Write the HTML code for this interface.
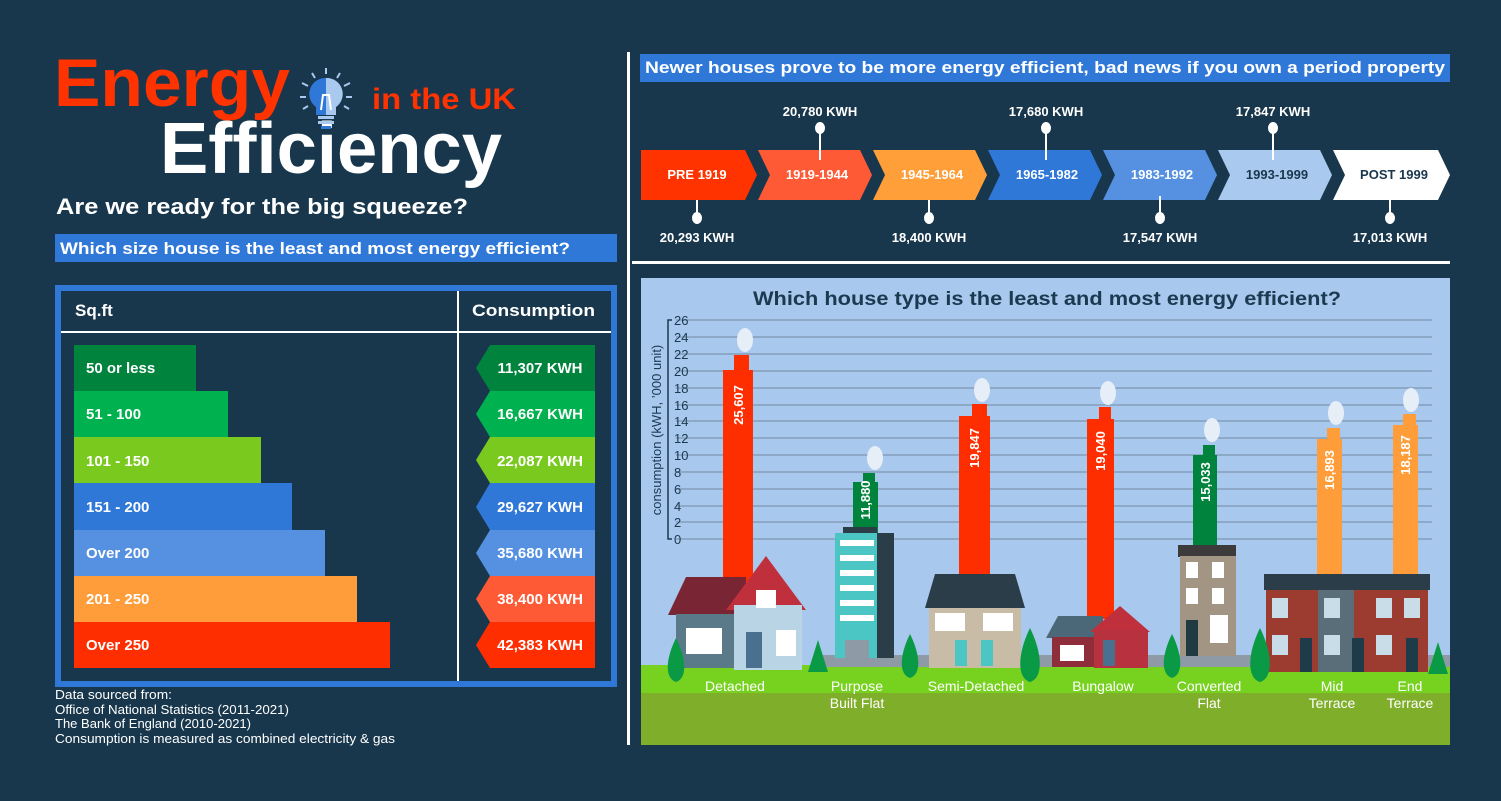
<!DOCTYPE html>
<html><head><meta charset="utf-8"><style>
html,body{margin:0;padding:0;background:#18374c;}
svg{display:block;font-family:"Liberation Sans",sans-serif;font-weight:bold;}
</style></head><body>
<svg width="1501" height="801" viewBox="0 0 1501 801" xmlns="http://www.w3.org/2000/svg">
<rect width="1501" height="801" fill="#18374c"/>
<!-- Title -->
<text x="54" y="106" font-size="68" fill="#ff3300" textLength="236" lengthAdjust="spacingAndGlyphs">Energy</text>
<text x="372" y="109" font-size="30" fill="#ff3300" textLength="144" lengthAdjust="spacingAndGlyphs">in the UK</text>
<text x="160" y="173" font-size="72" fill="#ffffff" textLength="342" lengthAdjust="spacingAndGlyphs">Efficiency</text>
<g stroke="#a9c9ee" stroke-width="2">
<line x1="326" y1="68" x2="326" y2="74"/><line x1="312" y1="73" x2="315" y2="78"/><line x1="340" y1="73" x2="337" y2="78"/>
<line x1="302" y1="83" x2="308" y2="86"/><line x1="350" y1="83" x2="344" y2="86"/><line x1="300" y1="97" x2="306" y2="97"/><line x1="352" y1="97" x2="346" y2="97"/>
<line x1="303" y1="109" x2="308" y2="106"/><line x1="349" y1="109" x2="344" y2="106"/></g>
<path d="M326 78 a16 16 0 0 1 10 29 v8 h-20 v-8 a16 16 0 0 1 10 -29z" fill="#2f78d8"/>
<path d="M326 78 a16 16 0 0 1 10 29 v8 h-10z" fill="#a9c9ee"/>
<path d="M321 110 l2 -15 h6 l2 15" fill="none" stroke="#fff" stroke-width="2"/>
<rect x="318" y="116" width="16" height="3" fill="#a9c9ee"/><rect x="318" y="121" width="16" height="3" fill="#a9c9ee"/><rect x="321" y="126" width="10" height="3" fill="#2f78d8"/>
<text x="56" y="214" font-size="22" fill="#fff" textLength="412" lengthAdjust="spacingAndGlyphs">Are we ready for the big squeeze?</text>
<rect x="55" y="234" width="562" height="28" fill="#2f78d8"/>
<text x="60" y="254" font-size="17" fill="#fff" textLength="510" lengthAdjust="spacingAndGlyphs">Which size house is the least and most energy efficient?</text>
<!-- table -->
<rect x="58" y="288" width="556" height="396" fill="none" stroke="#2f78d8" stroke-width="6"/>
<line x1="61" y1="332" x2="611" y2="332" stroke="#fff" stroke-width="2"/>
<line x1="458" y1="291" x2="458" y2="681" stroke="#fff" stroke-width="2"/>
<text x="75" y="316" font-size="17" fill="#fff">Sq.ft</text>
<text x="472" y="316" font-size="17" fill="#fff" textLength="123" lengthAdjust="spacingAndGlyphs">Consumption</text>
<g font-size="15" fill="#fff">
<rect x="74" y="345" width="122" height="46" fill="#00843d"/><text x="86" y="373">50 or less</text>
<rect x="74" y="391" width="154" height="46" fill="#00b14f"/><text x="86" y="419">51 - 100</text>
<rect x="74" y="437" width="187" height="46" fill="#7ac91f"/><text x="86" y="466">101 - 150</text>
<rect x="74" y="483" width="218" height="47" fill="#2f78d8"/><text x="86" y="512">151 - 200</text>
<rect x="74" y="530" width="251" height="46" fill="#5591e0"/><text x="86" y="558">Over 200</text>
<rect x="74" y="576" width="283" height="46" fill="#ff9d3a"/><text x="86" y="604">201 - 250</text>
<rect x="74" y="622" width="316" height="46" fill="#ff2e00"/><text x="86" y="650">Over 250</text>
</g>
<g font-size="15" fill="#fff" text-anchor="middle">
<path d="M490 345h105v46h-105l-14-23z" fill="#00843d"/><text x="540" y="373">11,307 KWH</text>
<path d="M490 391h105v46h-105l-14-23z" fill="#00b14f"/><text x="540" y="419">16,667 KWH</text>
<path d="M490 437h105v46h-105l-14-23z" fill="#7ac91f"/><text x="540" y="466">22,087 KWH</text>
<path d="M490 483h105v47h-105l-14-23z" fill="#2f78d8"/><text x="540" y="512">29,627 KWH</text>
<path d="M490 530h105v46h-105l-14-23z" fill="#5591e0"/><text x="540" y="558">35,680 KWH</text>
<path d="M490 576h105v46h-105l-14-23z" fill="#ff5a36"/><text x="540" y="604">38,400 KWH</text>
<path d="M490 622h105v46h-105l-14-23z" fill="#ff2e00"/><text x="540" y="650">42,383 KWH</text>
</g>
<g font-size="12.5" fill="#fff" font-weight="normal">
<text x="55" y="699" textLength="117" lengthAdjust="spacingAndGlyphs">Data sourced from:</text>
<text x="55" y="714" textLength="234" lengthAdjust="spacingAndGlyphs">Office of National Statistics (2011-2021)</text>
<text x="55" y="728" textLength="196" lengthAdjust="spacingAndGlyphs">The Bank of England (2010-2021)</text>
<text x="55" y="743" textLength="340" lengthAdjust="spacingAndGlyphs">Consumption is measured as combined electricity &amp; gas</text>
</g>
<!-- divider -->
<rect x="627" y="52" width="3" height="693" fill="#fff"/>
<rect x="632" y="261" width="818" height="3" fill="#fff"/>
<!-- right header -->
<rect x="640" y="54" width="810" height="28" fill="#2f78d8"/>
<text x="645" y="73" font-size="17" fill="#fff" textLength="800" lengthAdjust="spacingAndGlyphs">Newer houses prove to be more energy efficient, bad news if you own a period property</text>
<!-- chevrons -->
<g font-size="13" text-anchor="middle">
<path d="M641 150h104l12 25l-12 25h-104z" fill="#ff3300"/><text x="697" y="179" fill="#fff">PRE 1919</text>
<path d="M758 150h102l12 25l-12 25h-102l12-25z" fill="#ff5a36"/><text x="817" y="179" fill="#fff">1919-1944</text>
<path d="M873 150h102l12 25l-12 25h-102l12-25z" fill="#ff9f3a"/><text x="932" y="179" fill="#fff">1945-1964</text>
<path d="M988 150h102l12 25l-12 25h-102l12-25z" fill="#2f78d8"/><text x="1047" y="179" fill="#fff">1965-1982</text>
<path d="M1103 150h102l12 25l-12 25h-102l12-25z" fill="#5591e0"/><text x="1162" y="179" fill="#fff">1983-1992</text>
<path d="M1218 150h102l12 25l-12 25h-102l12-25z" fill="#a9c9ee"/><text x="1277" y="179" fill="#18374c">1993-1999</text>
<path d="M1333 150h105l12 25l-12 25h-105l12-25z" fill="#fff"/><text x="1394" y="179" fill="#18374c">POST 1999</text>
</g>
<g stroke="#fff" stroke-width="2" fill="#fff">
<line x1="697" y1="200" x2="697" y2="218"/><ellipse cx="697" cy="218" rx="4" ry="5"/>
<line x1="820" y1="128" x2="820" y2="160"/><ellipse cx="820" cy="128" rx="4" ry="5"/>
<line x1="929" y1="200" x2="929" y2="218"/><ellipse cx="929" cy="218" rx="4" ry="5"/>
<line x1="1046" y1="128" x2="1046" y2="160"/><ellipse cx="1046" cy="128" rx="4" ry="5"/>
<line x1="1160" y1="196" x2="1160" y2="218"/><ellipse cx="1160" cy="218" rx="4" ry="5"/>
<line x1="1273" y1="128" x2="1273" y2="160"/><ellipse cx="1273" cy="128" rx="4" ry="5"/>
<line x1="1390" y1="200" x2="1390" y2="218"/><ellipse cx="1390" cy="218" rx="4" ry="5"/>
</g>
<g font-size="13" fill="#fff" text-anchor="middle">
<text x="697" y="242">20,293 KWH</text><text x="820" y="116">20,780 KWH</text>
<text x="929" y="242">18,400 KWH</text><text x="1046" y="116">17,680 KWH</text>
<text x="1160" y="242">17,547 KWH</text><text x="1273" y="116">17,847 KWH</text>
<text x="1390" y="242">17,013 KWH</text>
</g>
<!-- chart panel -->
<rect x="641" y="278" width="809" height="467" fill="#a8c8ee"/>
<rect x="641" y="665" width="809" height="28" fill="#77d11f"/>
<rect x="641" y="693" width="809" height="52" fill="#7fae2b"/>
<text x="1047" y="305" font-size="19" fill="#1a3a50" text-anchor="middle" textLength="588" lengthAdjust="spacingAndGlyphs">Which house type is the least and most energy efficient?</text>
<g stroke="#8ea9c8" stroke-width="2">
<line x1="676" y1="320" x2="1432" y2="320"/><line x1="676" y1="337" x2="1432" y2="337"/><line x1="676" y1="354" x2="1432" y2="354"/>
<line x1="676" y1="371" x2="1432" y2="371"/><line x1="676" y1="388" x2="1432" y2="388"/><line x1="676" y1="405" x2="1432" y2="405"/>
<line x1="676" y1="421" x2="1432" y2="421"/><line x1="676" y1="438" x2="1432" y2="438"/><line x1="676" y1="455" x2="1432" y2="455"/>
<line x1="676" y1="472" x2="1432" y2="472"/><line x1="676" y1="489" x2="1432" y2="489"/><line x1="676" y1="506" x2="1432" y2="506"/>
<line x1="676" y1="522" x2="1432" y2="522"/><line x1="676" y1="539" x2="1432" y2="539"/>
</g>
<path d="M672 320h-4v219h4" fill="none" stroke="#1a3a50" stroke-width="1.5"/>
<g font-size="13" fill="#1a3a50" font-weight="normal">
<text x="674" y="325">26</text><text x="674" y="342">24</text><text x="674" y="359">22</text><text x="674" y="376">20</text><text x="674" y="393">18</text>
<text x="674" y="410">16</text><text x="674" y="426">14</text><text x="674" y="443">12</text><text x="674" y="460">10</text><text x="674" y="477">8</text>
<text x="674" y="494">6</text><text x="674" y="511">4</text><text x="674" y="527">2</text><text x="674" y="544">0</text>
</g>
<text transform="translate(661,430) rotate(-90)" font-size="13" fill="#1a3a50" font-weight="normal" text-anchor="middle">consumption (kWH, ’000 unit)</text>
<!-- smoke -->
<g fill="#e6eef8">
<ellipse cx="745" cy="340" rx="8" ry="12"/><ellipse cx="875" cy="458" rx="8" ry="12"/><ellipse cx="982" cy="390" rx="8" ry="12"/>
<ellipse cx="1108" cy="393" rx="8" ry="12"/><ellipse cx="1212" cy="430" rx="8" ry="12"/><ellipse cx="1336" cy="413" rx="8" ry="12"/><ellipse cx="1411" cy="400" rx="8" ry="12"/>
</g>
<!-- chimneys -->
<g fill="#ff2e00"><rect x="723" y="370" width="30" height="220"/><rect x="734" y="355" width="15" height="20"/>
<rect x="959" y="416" width="31" height="170"/><rect x="972" y="404" width="15" height="15"/>
<rect x="1087" y="419" width="27" height="200"/><rect x="1099" y="407" width="12" height="15"/></g>
<g fill="#00843d"><rect x="853" y="482" width="25" height="60"/><rect x="863" y="473" width="12" height="12"/>
<rect x="1193" y="455" width="24" height="100"/><rect x="1203" y="445" width="12" height="12"/></g>
<g fill="#ff9d3a"><rect x="1317" y="439" width="25" height="140"/><rect x="1327" y="428" width="13" height="13"/>
<rect x="1393" y="425" width="25" height="155"/><rect x="1403" y="414" width="13" height="13"/></g>
<g font-size="13" fill="#fff" text-anchor="middle">
<text transform="translate(743,405) rotate(-90)">25,607</text><text transform="translate(870,500) rotate(-90)">11,880</text>
<text transform="translate(979,448) rotate(-90)">19,847</text><text transform="translate(1105,451) rotate(-90)">19,040</text>
<text transform="translate(1210,482) rotate(-90)">15,033</text><text transform="translate(1334,470) rotate(-90)">16,893</text>
<text transform="translate(1410,455) rotate(-90)">18,187</text>
</g>
<!-- houses -->
<rect x="820" y="655" width="630" height="12" fill="#8e9aa6"/>
<path d="M668 615l18-38h60v38z" fill="#7a2533"/>
<rect x="676" y="614" width="60" height="54" fill="#5a7a8a"/>
<path d="M726 610l40-54l40 54z" fill="#c0303c"/>
<rect x="734" y="605" width="68" height="65" fill="#b9d4e4"/>
<rect x="686" y="628" width="36" height="26" fill="#fff"/><rect x="746" y="632" width="16" height="36" fill="#4a7090"/>
<rect x="776" y="630" width="20" height="26" fill="#fff"/><rect x="756" y="590" width="20" height="18" fill="#fff"/>
<rect x="843" y="527" width="34" height="8" fill="#2b3d48"/>
<rect x="835" y="533" width="44" height="125" fill="#4cc6c4"/><rect x="877" y="533" width="17" height="125" fill="#2b3d48"/>
<g fill="#fff"><rect x="840" y="540" width="34" height="6"/><rect x="840" y="555" width="34" height="6"/><rect x="840" y="570" width="34" height="6"/><rect x="840" y="585" width="34" height="6"/><rect x="840" y="600" width="34" height="6"/><rect x="840" y="615" width="34" height="6"/></g>
<rect x="845" y="640" width="24" height="18" fill="#8e9aa6"/>
<path d="M925 608l10-34h80l10 34z" fill="#2b3d48"/>
<rect x="929" y="608" width="92" height="60" fill="#c9bca6"/>
<rect x="935" y="613" width="30" height="18" fill="#fff"/><rect x="983" y="613" width="30" height="18" fill="#fff"/>
<rect x="955" y="640" width="12" height="26" fill="#4cc6c4"/><rect x="981" y="640" width="12" height="26" fill="#4cc6c4"/>
<path d="M1046 638l12-22h45v22z" fill="#4a6878"/>
<rect x="1052" y="637" width="45" height="30" fill="#8e2e3a"/>
<path d="M1090 632l30-26l30 26z" fill="#c0303c"/>
<rect x="1094" y="630" width="54" height="38" fill="#b8313e"/>
<rect x="1060" y="645" width="24" height="16" fill="#fff"/><rect x="1103" y="640" width="12" height="26" fill="#4a7090"/>
<rect x="1178" y="545" width="58" height="12" fill="#3c3a3a"/>
<rect x="1180" y="556" width="56" height="100" fill="#a39584"/>
<g fill="#fff"><rect x="1186" y="562" width="12" height="16"/><rect x="1212" y="562" width="12" height="16"/><rect x="1186" y="588" width="12" height="16"/><rect x="1212" y="588" width="12" height="16"/><rect x="1210" y="615" width="18" height="28"/></g>
<rect x="1186" y="620" width="12" height="36" fill="#1f3a40"/>
<rect x="1264" y="574" width="166" height="16" fill="#2b3d48"/>
<rect x="1266" y="590" width="162" height="82" fill="#9c3c30"/>
<rect x="1318" y="590" width="36" height="82" fill="#5a6e7a"/>
<g fill="#c9dde8"><rect x="1272" y="598" width="16" height="20"/><rect x="1324" y="598" width="16" height="20"/><rect x="1376" y="598" width="16" height="20"/><rect x="1404" y="598" width="16" height="20"/>
<rect x="1272" y="635" width="16" height="20"/><rect x="1324" y="635" width="16" height="20"/><rect x="1376" y="635" width="16" height="20"/></g>
<g fill="#1f3a48"><rect x="1300" y="638" width="12" height="34"/><rect x="1352" y="638" width="12" height="34"/><rect x="1406" y="638" width="12" height="34"/></g>
<g fill="#0a9a46">
<path d="M676 638c-10 20-12 40 0 44c12-4 10-24 0-44z"/><path d="M818 640l-10 32h20z"/><path d="M910 634c-10 20-12 40 0 44c12-4 10-24 0-44z"/>
<path d="M1030 628c-12 24-14 50 0 54c14-4 12-30 0-54z"/><path d="M1172 634c-10 20-12 40 0 44c12-4 10-24 0-44z"/>
<path d="M1260 628c-12 24-14 50 0 54c14-4 12-30 0-54z"/><path d="M1438 642l-10 32h20z"/>
</g>
<g font-size="14" fill="#fff" font-weight="normal" text-anchor="middle">
<text x="735" y="691">Detached</text>
<text x="857" y="691">Purpose</text><text x="857" y="708">Built Flat</text>
<text x="976" y="691">Semi-Detached</text>
<text x="1103" y="691">Bungalow</text>
<text x="1209" y="691">Converted</text><text x="1209" y="708">Flat</text>
<text x="1332" y="691">Mid</text><text x="1332" y="708">Terrace</text>
<text x="1410" y="691">End</text><text x="1410" y="708">Terrace</text>
</g>
</svg>
</body></html>
